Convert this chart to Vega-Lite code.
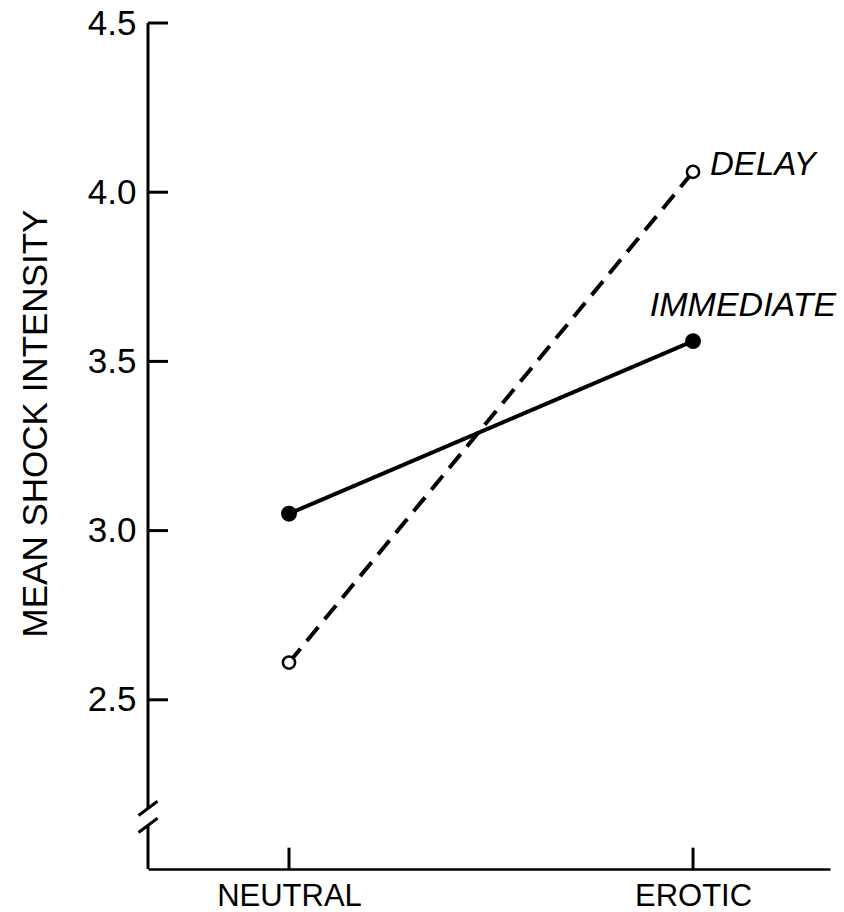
{
  "$schema": "https://vega.github.io/schema/vega-lite/v6.json",
  "width": 682,
  "height": 846,
  "autosize": {"type": "none"},
  "padding": {"left": 148, "top": 23, "right": 14, "bottom": 43},
  "background": "white",
  "config": {
    "view": {"stroke": null},
    "font": "Liberation Sans",
    "axis": {"grid": false, "labelFlush": false, "labelOverlap": false, "labelColor": "black", "titleColor": "black", "labelFont": "Liberation Sans", "titleFont": "Liberation Sans"}
  },
  "datasets": {
    "means": [
      {"condition": "NEUTRAL", "order": 1, "group": "IMMEDIATE", "value": 3.05},
      {"condition": "EROTIC", "order": 2, "group": "IMMEDIATE", "value": 3.56},
      {"condition": "NEUTRAL", "order": 1, "group": "DELAY", "value": 2.61},
      {"condition": "EROTIC", "order": 2, "group": "DELAY", "value": 4.06}
    ],
    "axisLine": [
      {"order": 0.651, "value": 4.5, "value2": 2.18},
      {"order": 0.651, "value": 2.13, "value2": 2.0}
    ],
    "axisBreak": [
      {"order": 0.6275, "order2": 0.6745, "value": 2.158, "value2": 2.2},
      {"order": 0.6275, "order2": 0.6745, "value": 2.108, "value2": 2.15}
    ],
    "yTicks": [
      {"order": 0.651, "order2": 0.7005, "value": 2.5},
      {"order": 0.651, "order2": 0.7005, "value": 3.0},
      {"order": 0.651, "order2": 0.7005, "value": 3.5},
      {"order": 0.651, "order2": 0.7005, "value": 4.0},
      {"order": 0.651, "order2": 0.7005, "value": 4.5}
    ],
    "xTicks": [
      {"order": 1, "value": 2.0, "value2": 2.063},
      {"order": 2, "value": 2.0, "value2": 2.063}
    ]
  },
  "layer": [
    {
      "data": {"name": "means"},
      "mark": {"type": "line", "color": "black", "strokeWidth": 4},
      "encoding": {
        "x": {
          "field": "order", "type": "quantitative",
          "scale": {"domain": [0.651, 2.339], "nice": false, "zero": false},
          "axis": {
            "title": null, "values": [1, 2],
            "labelExpr": "datum.value == 1 ? 'NEUTRAL' : 'EROTIC'",
            "domain": true, "domainColor": "black", "domainWidth": 2.5,
            "ticks": false,
            "labelPadding": 12, "labelFontSize": 31, "labelBaseline": "top"
          }
        },
        "y": {
          "field": "value", "type": "quantitative",
          "scale": {"domain": [2, 4.5], "nice": false, "zero": false},
          "axis": {
            "title": "MEAN SHOCK INTENSITY", "values": [2.5, 3, 3.5, 4, 4.5], "format": ".1f",
            "domain": false, "ticks": false,
            "labelPadding": 12, "labelFontSize": 35, "labelBaseline": "middle",
            "titleFontSize": 35, "titleFontWeight": "normal", "titleX": -113, "titleY": 400,
            "titleBaseline": "middle", "titleAlign": "center"
          }
        },
        "detail": {"field": "group"},
        "strokeDash": {"field": "group", "scale": {"domain": ["IMMEDIATE", "DELAY"], "range": [[1, 0], [18, 10]]}, "legend": null}
      }
    },
    {
      "data": {"name": "axisLine"},
      "mark": {"type": "rule", "color": "black", "strokeWidth": 3},
      "encoding": {
        "x": {"field": "order", "type": "quantitative"},
        "y": {"field": "value", "type": "quantitative"},
        "y2": {"field": "value2"}
      }
    },
    {
      "data": {"name": "axisBreak"},
      "mark": {"type": "rule", "color": "black", "strokeWidth": 3},
      "encoding": {
        "x": {"field": "order", "type": "quantitative"},
        "x2": {"field": "order2"},
        "y": {"field": "value", "type": "quantitative"},
        "y2": {"field": "value2"}
      }
    },
    {
      "data": {"name": "yTicks"},
      "mark": {"type": "rule", "color": "black", "strokeWidth": 3},
      "encoding": {
        "x": {"field": "order", "type": "quantitative"},
        "x2": {"field": "order2"},
        "y": {"field": "value", "type": "quantitative"}
      }
    },
    {
      "data": {"name": "xTicks"},
      "mark": {"type": "rule", "color": "black", "strokeWidth": 3},
      "encoding": {
        "x": {"field": "order", "type": "quantitative"},
        "y": {"field": "value", "type": "quantitative"},
        "y2": {"field": "value2"}
      }
    },
    {
      "data": {"name": "means"},
      "mark": {"type": "point", "filled": false, "stroke": "black", "strokeWidth": 2.5, "opacity": 1},
      "encoding": {
        "x": {"field": "order", "type": "quantitative"},
        "y": {"field": "value", "type": "quantitative"},
        "fill": {"field": "group", "type": "nominal", "scale": {"domain": ["IMMEDIATE", "DELAY"], "range": ["black", "white"]}, "legend": null},
        "size": {"field": "group", "type": "nominal", "scale": {"domain": ["IMMEDIATE", "DELAY"], "range": [180, 150]}, "legend": null}
      }
    },
    {
      "data": {"name": "means"},
      "transform": [{"filter": "datum.condition == 'EROTIC' && datum.group == 'DELAY'"}],
      "mark": {"type": "text", "align": "left", "baseline": "middle", "dx": 17, "dy": -7, "fontSize": 33, "fontStyle": "italic", "font": "Liberation Sans", "color": "black"},
      "encoding": {
        "x": {"field": "order", "type": "quantitative"},
        "y": {"field": "value", "type": "quantitative"},
        "text": {"field": "group"}
      }
    },
    {
      "data": {"name": "means"},
      "transform": [{"filter": "datum.condition == 'EROTIC' && datum.group == 'IMMEDIATE'"}],
      "mark": {"type": "text", "align": "center", "baseline": "middle", "dx": 50, "dy": -35, "fontSize": 34, "fontStyle": "italic", "font": "Liberation Sans", "color": "black"},
      "encoding": {
        "x": {"field": "order", "type": "quantitative"},
        "y": {"field": "value", "type": "quantitative"},
        "text": {"field": "group"}
      }
    }
  ]
}
